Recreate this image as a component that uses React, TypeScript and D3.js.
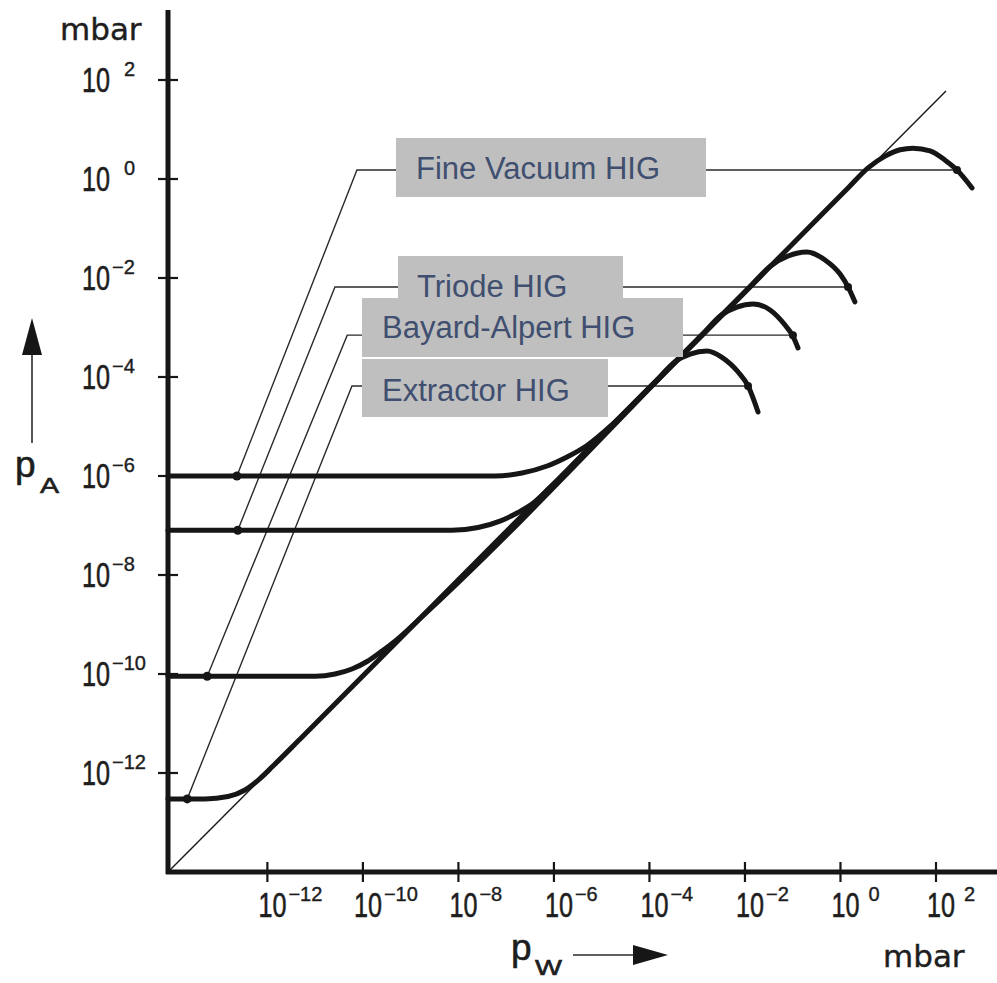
import React from "react";
import * as d3 from "d3";

// decades on the two axes (mbar)
const xTickExps = [-12, -10, -8, -6, -4, -2, 0, 2];
const yTickExps = [2, 0, -2, -4, -6, -8, -10, -12];

const gaugeNames = ["Fine Vacuum HIG", "Triode HIG", "Bayard-Alpert HIG", "Extractor HIG"];

// pW = true pressure, pA = indicated pressure, both mbar
const fineVacuumPW = [8.3e-15, 5.85e-8, 2.15e-7, 7.2e-7, 1.88e-6, 4.93e-6, 1.64e-5, 7.0e-5, 1.44, 3.78, 8.6, 17.7, 33, 75, 155, 275, 568];
const fineVacuumPA = [1e-6, 1e-6, 1.15e-6, 1.59e-6, 2.42e-6, 4.13e-6, 1.08e-5, 4.28e-5, 0.66, 1.68, 2.9, 3.9, 4.2, 3.7, 2.4, 1.52, 0.66];

const triodePW = [8.3e-15, 7.3e-9, 2.58e-8, 7.4e-8, 1.77e-7, 3.83e-7, 8.3e-7, 3.5e-6, 0.0128, 0.0335, 0.08, 0.199, 0.474, 0.98, 1.44, 2.0];
const triodePA = [8e-8, 8e-8, 9.1e-8, 1.23e-7, 1.83e-7, 2.92e-7, 5.9e-7, 2.37e-6, 6.7e-3, 0.0171, 0.0278, 0.0335, 0.0231, 0.012, 0.0066, 0.0033];

const bayardPW = [8.3e-15, 1.0e-11, 2.61e-11, 5.9e-11, 1.22e-10, 2.52e-10, 5.45e-10, 1.57e-9, 1.26e-3, 0.0033, 0.0068, 0.0148, 0.0335, 0.069, 0.101, 0.129];
const bayardPA = [9e-11, 9e-11, 1.0e-10, 1.26e-10, 1.79e-10, 2.92e-10, 5.2e-10, 1.32e-9, 7.1e-4, 1.82e-3, 2.59e-3, 2.99e-3, 2.26e-3, 1.12e-3, 6.7e-4, 3.85e-4];

const extractorPW = [8.3e-15, 4.95e-14, 1.5e-13, 3.4e-13, 7.0e-13, 1.31e-12, 4.8e-12, 1.37e-4, 3.6e-4, 7.1e-4, 1.6e-3, 3.3e-3, 7.2e-3, 0.0116, 0.0188];
const extractorPA = [3e-13, 3e-13, 3.35e-13, 4.54e-13, 7.7e-13, 1.38e-12, 4.8e-12, 8.3e-5, 2.1e-4, 2.9e-4, 3.35e-4, 2.5e-4, 1.26e-4, 6.6e-5, 1.96e-5];

// thin reference line pA = pW
const idealPW = [8.3e-15, 162];
const idealPA = [1e-14, 60];

// leader lines: dot on lower limit -> bend -> dot on upper end
const leaderLowPW = [2.3e-13, 2.4e-13, 5.5e-14, 2.1e-14];
const leaderLowPA = [1e-6, 8e-8, 9e-11, 3e-13];
const leaderBendPW = [7.5e-11, 2.6e-11, 4.7e-11, 5.9e-11];
const leaderLevelPA = [1.52, 0.0066, 7.0e-4, 6.6e-5];
const leaderEndPW = [275, 1.44, 0.101, 0.0116];

// label boxes (layout only)
const boxes = [
  { x: 396, y: 138, w: 310, h: 59, tx: 416, ty: 179 },
  { x: 398, y: 256, w: 225, h: 59, tx: 417, ty: 297 },
  { x: 362, y: 298, w: 321, h: 59, tx: 382, ty: 338 },
  { x: 362, y: 359, w: 246, h: 58, tx: 382, ty: 401 },
];

const INK = "#161616";
const TEXT = "#1e1e1e";
const TICK_FONT = "'Liberation Sans', Arial, sans-serif";

function Power({ x0, y0, exp, gap }: { x0: number; y0: number; exp: number; gap: number }) {
  const sup = exp < 0 ? "\u2212" + -exp : String(exp);
  return (
    <g fill={TEXT} stroke={TEXT} strokeWidth={0.6} fontFamily={TICK_FONT}>
      <text transform={`translate(${x0},${y0}) scale(0.7,1)`} fontSize={36}>
        10
      </text>
      <text x={x0 + 30 + (exp >= 0 ? gap : 0)} y={y0 - 16} fontSize={20} strokeWidth={0.4}>
        {sup}
      </text>
    </g>
  );
}

export default function App() {
  const x = d3.scaleLog().domain([8.3e-15, 1e2]).range([168, 936]);
  const y = d3.scaleLog().domain([1e-14, 1e2]).range([872, 80]);
  const x0 = x.range()[0];
  const y0 = y.range()[0];

  const curve = d3
    .line<[number, number]>()
    .x((d) => x(d[0]))
    .y((d) => y(d[1]))
    .curve(d3.curveMonotoneX);
  const straight = d3
    .line<[number, number]>()
    .x((d) => x(d[0]))
    .y((d) => y(d[1]));

  const gauges = [
    d3.zip(fineVacuumPW, fineVacuumPA),
    d3.zip(triodePW, triodePA),
    d3.zip(bayardPW, bayardPA),
    d3.zip(extractorPW, extractorPA),
  ] as [number, number][][];

  return (
    <svg
      width={997}
      height={983}
      style={{ position: "absolute", left: 0, top: 0, background: "#fff" }}
    >
      <rect width={997} height={983} fill="#fff" />

      {/* thin ideal line */}
      <path
        d={straight(d3.zip(idealPW, idealPA) as [number, number][]) || ""}
        fill="none"
        stroke={INK}
        strokeWidth={1.4}
      />

      {/* leaders */}
      {gaugeNames.map((name, i) => (
        <path
          key={"ld" + name}
          d={
            straight([
              [leaderLowPW[i], leaderLowPA[i]],
              [leaderBendPW[i], leaderLevelPA[i]],
              [leaderEndPW[i], leaderLevelPA[i]],
            ]) || ""
          }
          fill="none"
          stroke="#2a2a2a"
          strokeWidth={1.4}
        />
      ))}

      {/* gauge characteristics */}
      {gauges.map((g, i) => (
        <path
          key={"g" + i}
          d={curve(g) || ""}
          fill="none"
          stroke={INK}
          strokeWidth={5}
          strokeLinecap="round"
          strokeLinejoin="round"
        />
      ))}

      {/* dots */}
      {gaugeNames.map((name, i) => (
        <g key={"dt" + name} fill={INK}>
          <circle cx={x(leaderLowPW[i])} cy={y(leaderLowPA[i])} r={4.5} />
          <circle cx={x(leaderEndPW[i])} cy={y(leaderLevelPA[i])} r={4} />
        </g>
      ))}

      {/* axes */}
      <line x1={x0} y1={10} x2={x0} y2={y0 + 2} stroke={INK} strokeWidth={5} />
      <line x1={x0 - 2} y1={y0} x2={997} y2={y0} stroke={INK} strokeWidth={5} />
      {yTickExps.map((e) => (
        <g key={"yt" + e}>
          <line x1={x0 - 10} x2={x0 + 10} y1={y(10 ** e)} y2={y(10 ** e)} stroke={INK} strokeWidth={2.2} />
          <Power x0={82} y0={y(10 ** e) + 12} exp={e} gap={12} />
        </g>
      ))}
      {xTickExps.map((e) => (
        <g key={"xt" + e}>
          <line x1={x(10 ** e)} x2={x(10 ** e)} y1={y0 - 10} y2={y0 + 10} stroke={INK} strokeWidth={2.2} />
          <Power x0={x(10 ** e) - 9} y0={917} exp={e} gap={7} />
        </g>
      ))}

      {/* units and axis names */}
      <g fontFamily="'DejaVu Sans', sans-serif" fontSize={31} fill={TEXT} stroke={TEXT} strokeWidth={0.4}>
        <text x={60} y={40}>mbar</text>
        <text x={883} y={967}>mbar</text>
      </g>
      <g fontFamily={TICK_FONT} fill={TEXT} stroke={TEXT} strokeWidth={0.6}>
        <text x={15} y={477} fontSize={37}>p</text>
        <text transform="translate(40,493) scale(1.3,1)" fontSize={22}>A</text>
        <text x={511} y={960} fontSize={37}>p</text>
        <text transform="translate(535,975) scale(1.3,1)" fontSize={22}>W</text>
      </g>
      <line x1={32} y1={443} x2={32} y2={350} stroke="#2a2a2a" strokeWidth={1.6} />
      <polygon points="32,318 22,355 42,355" fill={INK} />
      <line x1={573} y1={955} x2={636} y2={955} stroke="#2a2a2a" strokeWidth={1.6} />
      <polygon points="633,945 668,955 633,965" fill={INK} />

      {/* label boxes */}
      {gaugeNames.map((name, i) => (
        <g key={"bx" + name}>
          <rect x={boxes[i].x} y={boxes[i].y} width={boxes[i].w} height={boxes[i].h} fill="#bfbfbf" />
          <text
            x={boxes[i].tx}
            y={boxes[i].ty}
            fontFamily="'Liberation Sans', Arial, sans-serif"
            fontSize={31}
            fill="#404f6f"
          >
            {name}
          </text>
        </g>
      ))}
    </svg>
  );
}
